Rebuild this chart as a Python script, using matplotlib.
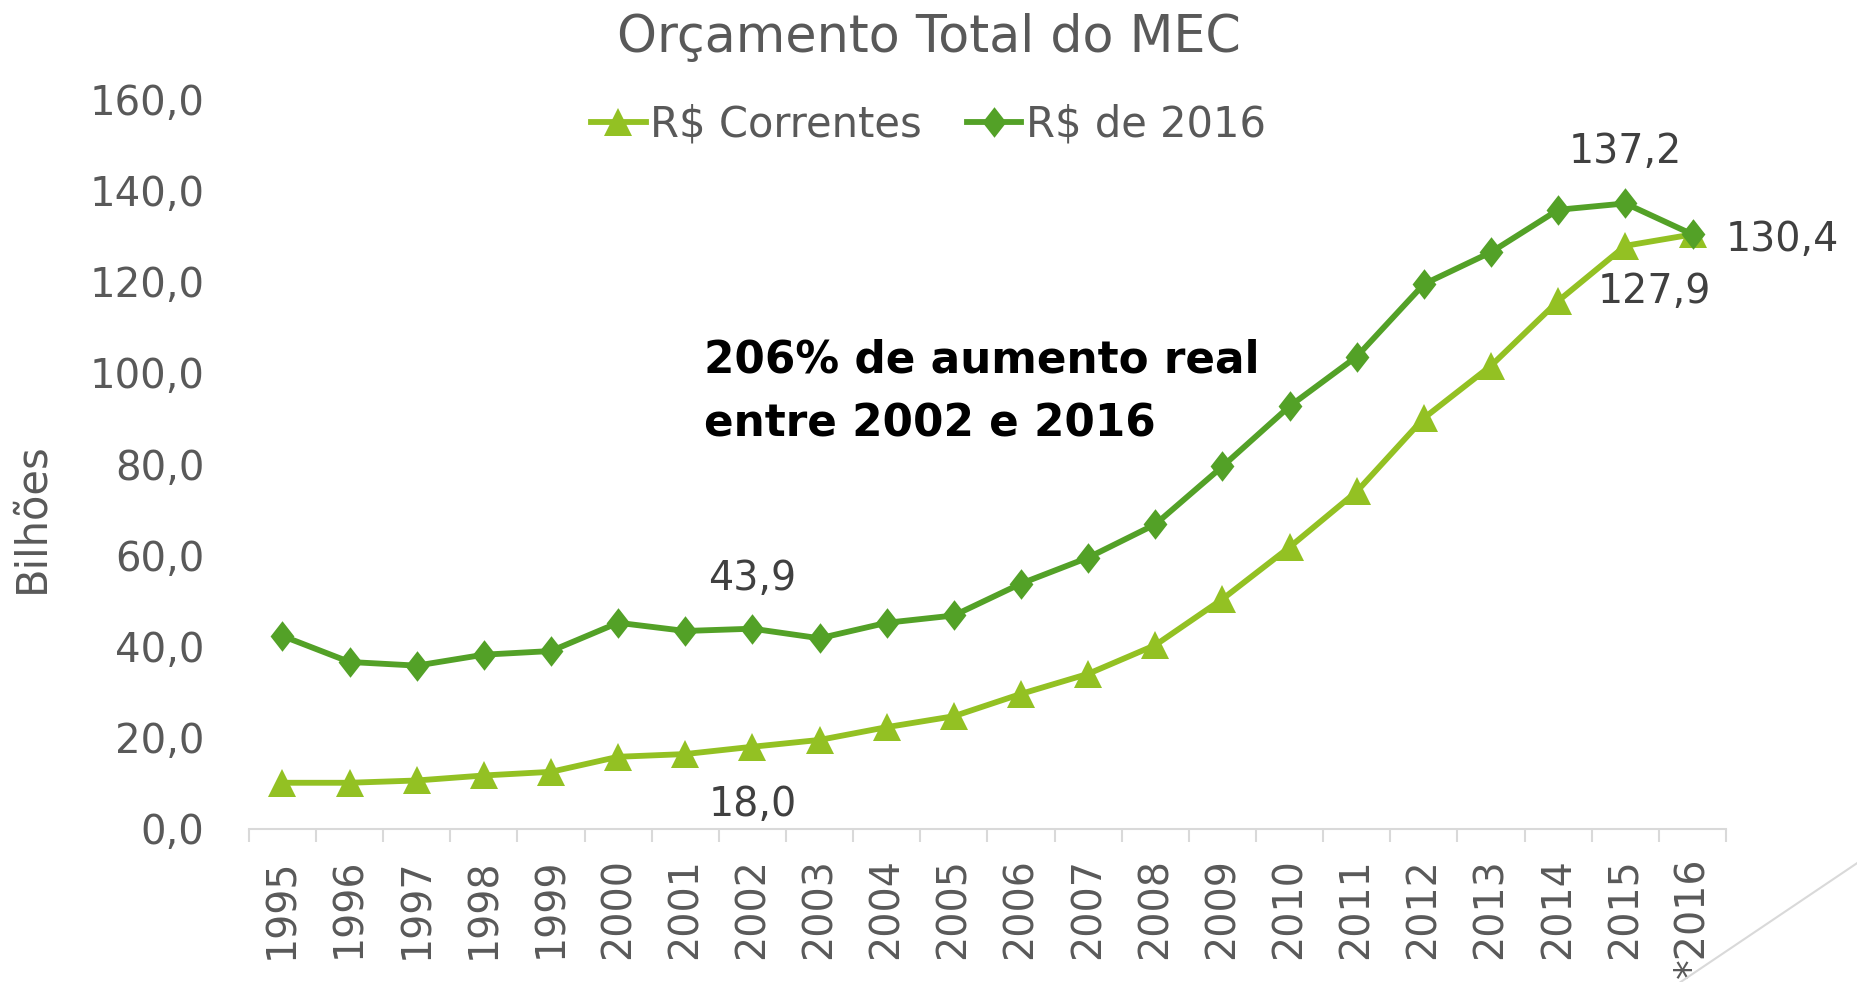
import numpy as np
import matplotlib
matplotlib.use("Agg")
import matplotlib.pyplot as plt
from matplotlib.lines import Line2D

# === DATA ===
years = ["1995", "1996", "1997", "1998", "1999", "2000", "2001", "2002", "2003",
         "2004", "2005", "2006", "2007", "2008", "2009", "2010", "2011", "2012",
         "2013", "2014", "2015", "*2016"]
correntes = [10.1, 10.1, 10.6, 11.7, 12.5, 15.8, 16.4, 18.0, 19.5, 22.3, 24.7,
             29.6, 34.0, 40.3, 50.4, 61.8, 74.0, 90.1, 101.6, 115.8, 127.9, 130.4]
reais_2016 = [42.3, 36.6, 35.8, 38.2, 39.0, 45.2, 43.4, 43.9, 41.8, 45.2, 46.8,
              53.8, 59.5, 66.8, 79.5, 92.7, 103.6, 119.5, 126.5, 135.8, 137.2, 130.4]
yticks = [0, 20, 40, 60, 80, 100, 120, 140, 160]

# === STYLE ===
C_LIGHT = "#93c123"
C_DARK = "#53a127"
C_TEXT = "#595959"
C_LABEL = "#404040"
C_AXIS = "#d9d9d9"
plt.rcParams["font.family"] = ["DejaVu Sans"]

diamond = [(0, 1), (0.78, 0), (0, -1), (-0.78, 0), (0, 1)]

fig = plt.figure(figsize=(18.57, 9.82), dpi=100)
ax = fig.add_axes([0.134, 0.156, 0.7955, 0.7427])

x = np.arange(len(years))
ax.plot(x, correntes, color=C_LIGHT, lw=4.2, marker="^", ms=20,
        markeredgewidth=0, label="R$ Correntes", zorder=3)
ax.plot(x, reais_2016, color=C_DARK, lw=4.2, marker=diamond, ms=22,
        markeredgewidth=0, label="R$ de 2016", zorder=4)

ax.set_xlim(-0.5, len(years) - 0.5)
ax.set_ylim(0, 160)
ax.set_yticks(yticks)
ax.set_yticklabels([f"{v:.1f}".replace(".", ",") for v in yticks])
ax.set_xticks(x)
ax.set_xticklabels(years, rotation=90)
ax.set_xticks(np.arange(-0.5, len(years), 1), minor=True)

ax.tick_params(axis="y", length=0, pad=32, labelsize=29, labelcolor=C_TEXT)
ax.tick_params(axis="x", which="major", length=0, pad=21, labelsize=28.5,
               labelcolor=C_TEXT)
ax.tick_params(axis="x", which="minor", length=9.5, width=1.5, color=C_AXIS)

for s in ["left", "top", "right"]:
    ax.spines[s].set_visible(False)
ax.spines["bottom"].set_color(C_AXIS)
ax.spines["bottom"].set_linewidth(1.5)

ax.set_ylabel("Bilhões", fontsize=30, color=C_TEXT)
ax.yaxis.set_label_coords(-0.133, 0.427)

# data labels
def label(i, vals, txt, dx, dy, ha="center"):
    ax.annotate(txt, (x[i], vals[i]), xytext=(dx, dy), textcoords="offset points",
                ha=ha, va="center", fontsize=28.5, color=C_LABEL)

label(20, reais_2016, "137,2", 0, 37)
label(21, reais_2016, "130,4", 24, -4, ha="left")
label(20, correntes, "127,9", 21, -33)
label(7, reais_2016, "43,9", 0, 36)
label(7, correntes, "18,0", 0, -42)

ax.text(6.28, 107.5, "206% de aumento real\nentre 2002 e 2016", fontsize=31.5,
        fontweight="bold", color="black", va="top", ha="left",
        linespacing=1.62, transform=ax.transData)

fig.text(0.5, 0.961, "Orçamento Total do MEC", ha="center", va="center",
         fontsize=36.5, color=C_TEXT)

leg = ax.legend(loc="center", bbox_to_anchor=(0.5, 0.873),
                bbox_transform=fig.transFigure, ncol=2, frameon=False,
                fontsize=30, handlelength=1.3, handletextpad=0.1,
                columnspacing=1.1, labelcolor=C_TEXT)

# slide decoration line in the corner
fig.add_artist(Line2D([1.0, 0.905], [0.121, 0.0], transform=fig.transFigure,
                      color=C_AXIS, lw=1.5))

fig.savefig("out.png", dpi=100)
